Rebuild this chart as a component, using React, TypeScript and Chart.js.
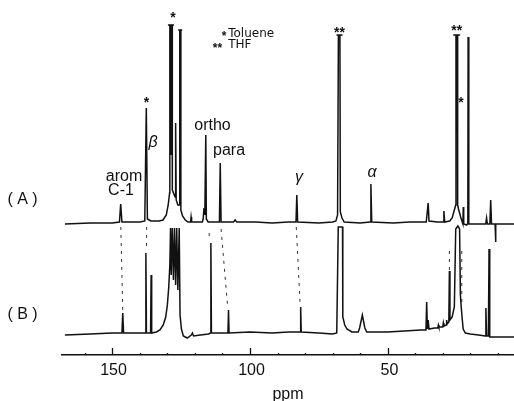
import React, { useEffect, useRef } from 'react';
import { Chart, registerables } from 'chart.js';
Chart.register(...registerables);

// ---- Spectrum (A): vertices (ppm, intensity above axis) ----
const specAPpm = [167.2, 158, 150, 147.4, 146.95, 146.5, 140, 138.2, 137.65, 137.45, 137.25, 136.0, 133.0, 131.6, 130.4, 129.7, 129.2, 129.1, 129.8, 127.6, 128.7, 128.75, 128.5, 128.3, 128.2, 127.2, 127.0, 126.8, 126.2, 125.6, 125.5, 126.1, 124.6, 125.2, 125.1, 124.5, 123.5, 122.5, 121.6, 121.4, 121.2, 117.3, 117.0, 116.7, 116.4, 116.05, 115.85, 115.2, 111.1, 110.8, 110.5, 106.0, 105.4, 104.8, 98, 92, 86, 83.3, 83.0, 82.7, 75, 70, 68.8, 68.2, 67.9, 68.6, 66.4, 67.35, 67.2, 66.6, 65.8, 60, 56.4, 56.1, 55.8, 48, 42, 36.0, 35.3, 35.0, 32, 29.9, 29.6, 29.3, 27.5, 26.6, 26.0, 25.3, 25.2, 26.2, 23.7, 24.7, 24.6, 24.3, 23.5, 22.7, 22.55, 22.4, 21.3, 20.9, 20.8, 20.6, 20.5, 18, 14.4, 14.1, 13.8, 12.9, 12.6, 12.3, 11.0, 10.85, 10.7, 8, 4.14];
const specAVal = [131, 132, 132, 133, 151, 133, 133, 134, 247, 247, 136, 134, 134, 135, 140, 150, 162, 330, 330, 330, 330, 200, 330, 330, 165, 158, 232, 155, 150, 150, 325, 325, 325, 325, 145, 139, 135, 133, 133, 138, 133, 133, 136, 147, 140, 220, 136, 133, 133, 192, 133, 133, 135, 133, 133, 132, 133, 133, 160, 133, 132, 133, 134, 140, 320, 320, 320, 320, 143, 137, 133, 132, 133, 171, 133, 132, 133, 133, 152, 134, 133, 133, 144, 133, 134, 137, 143, 150, 320, 320, 320, 320, 150, 146, 138, 131, 148, 131, 130, 132, 318, 318, 131, 131, 131, 137, 131, 131, 155, 131, 131, 113, 131, 131, 131];

// ---- Spectrum (B) ----
const specBPpm = [167.2, 158, 150, 146.5, 146.2, 145.9, 140, 138.0, 137.8, 137.6, 136.1, 135.9, 135.7, 134, 132.7, 131.5, 130.6, 130.0, 129.5, 129.1, 128.85, 128.6, 128.2, 127.8, 127.4, 127.0, 126.6, 126.2, 125.7, 125.4, 124.9, 124.2, 122.8, 121.3, 120.9, 120.5, 118, 115, 114.4, 114.2, 114.0, 110, 108.0, 107.8, 107.6, 100, 92, 86, 81.8, 81.6, 81.4, 75, 70, 68.5, 67.95, 66.4, 66.3, 65.6, 64.8, 63, 60.7, 60.2, 59.2, 58.3, 57.6, 50, 44, 38, 36.1, 35.85, 35.6, 35.3, 35.0, 33, 31.8, 31.6, 31.4, 30.0, 29.8, 29.6, 28.8, 28.6, 28.4, 27.8, 27.6, 27.4, 26.6, 25.8, 25.3, 24.5, 23.9, 23.6, 23.3, 23.0, 22.6, 21.8, 20, 17, 14.6, 14.35, 14.1, 13.45, 13.2, 12.95, 10, 7, 4.14];
const specBVal = [20, 21, 22, 22, 42, 22, 22, 22, 102, 22, 22, 80, 22, 23, 25, 30, 38, 50, 68, 90, 127, 80, 127, 75, 127, 70, 127, 65, 127, 40, 26, 19, 17, 20, 22, 19, 20, 21, 22, 112, 22, 22, 22, 45, 22, 23, 22, 23, 23, 48, 23, 22, 21, 22, 128, 128, 38, 30, 26, 23, 23, 27, 40, 27, 23, 23, 24, 25, 25, 53, 26, 35, 26, 27, 27, 30, 28, 28, 32, 29, 30, 35, 31, 33, 84, 35, 38, 48, 126, 129, 126, 60, 48, 38, 26, 22, 21, 20, 19, 47, 19, 19, 106, 18, 18, 18, 18];

// ---- Dotted correlation lines between (A) and (B) ----
const linkTopPpm = [146.9, 137.5, 114.8, 110.5, 83.2, 27.6, 23.1];
const linkTopVal = [128, 128, 122, 126, 128, 104, 104];
const linkBotPpm = [146.2, 137.6, 114.8, 108.1, 81.8, 27.6, 23.1];
const linkBotVal = [44, 105, 115, 48, 51, 85, 50];

// ---- Axis ----
const axisTicks = [160, 150, 140, 130, 120, 110, 100, 90, 80, 70, 60, 50, 40, 30, 20, 10];
const majorTicks = [150, 100, 50];
const axisTitle = 'ppm';

// ---- Text annotations ----
const labelTexts = ['( A )', '( B )', 'arom', 'C-1', 'β', 'ortho', 'para', 'γ', 'α'];
const labelPpm = [182.6, 182.6, 145.75, 146.84, 135.2, 113.6, 107.6, 82.2, 55.7];
const labelVal = [151.5, 36.5, 174, 160, 208, 225, 200, 173, 178];

const markTexts = ['*', '*', '**', '**', '*'];
const markPpm = [127.96, 137.58, 67.5, 24.95, 23.38];
const markVal = [341, 256, 326, 328, 256];

const legendMarks = ['*', '**'];
const legendTexts = ['Toluene', 'THF'];
const legendMarkPpm = [109.44, 111.8];
const legendMarkVal = [321.7, 310];
const legendTextPpm = [107.9, 107.9];
const legendTextVal = [317.7, 306.7];

const INK = '#111';

const annotPlugin = {
  id: 'annot',
  afterDatasetsDraw(chart: any) {
    const { ctx, scales } = chart;
    const x = scales.x, y = scales.y;
    ctx.save();
    ctx.fillStyle = INK;
    ctx.textAlign = 'center';
    ctx.textBaseline = 'alphabetic';
    labelTexts.forEach((t, i) => {
      const greek = /[αβγ]/.test(t);
      ctx.font = greek ? 'italic 16px "Liberation Sans"' : '16px "Liberation Sans"';
      ctx.fillText(t, x.getPixelForValue(labelPpm[i]), y.getPixelForValue(labelVal[i]));
    });
    ctx.font = 'bold 14px "Liberation Sans"';
    markTexts.forEach((t, i) => {
      ctx.fillText(t, x.getPixelForValue(markPpm[i]), y.getPixelForValue(markVal[i]) + 0.57 * 14);
    });
    ctx.font = 'bold 12px "Liberation Sans"';
    legendMarks.forEach((t, i) => {
      ctx.fillText(t, x.getPixelForValue(legendMarkPpm[i]), y.getPixelForValue(legendMarkVal[i]) + 0.57 * 12);
    });
    ctx.textAlign = 'left';
    ctx.font = '12px "DejaVu Sans"';
    legendTexts.forEach((t, i) => {
      ctx.fillText(t, x.getPixelForValue(legendTextPpm[i]), y.getPixelForValue(legendTextVal[i]));
    });
    ctx.restore();
  },
  afterDraw(chart: any) {
    const { ctx, scales, chartArea } = chart;
    const x = scales.x;
    const base = chartArea.bottom;
    ctx.save();
    ctx.strokeStyle = INK;
    ctx.fillStyle = INK;
    ctx.lineWidth = 1.3;
    ctx.textAlign = 'center';
    ctx.textBaseline = 'alphabetic';
    ctx.font = '16px "Liberation Sans"';
    axisTicks.forEach((v) => {
      const px = Math.round(x.getPixelForValue(v)) + 0.5;
      const major = majorTicks.includes(v);
      ctx.beginPath();
      ctx.moveTo(px, base);
      ctx.lineTo(px, base - (major ? 7 : 2));
      ctx.stroke();
      if (major) ctx.fillText(String(v), px + 1, base + 20);
    });
    ctx.fillText(axisTitle, (chartArea.left + chartArea.right) / 2, base + 44);
    ctx.restore();
  },
};

export default function App() {
  const ref = useRef<HTMLCanvasElement | null>(null);
  useEffect(() => {
    if (!ref.current) return;
    const toPts = (p: number[], v: number[]) => p.map((px, i) => ({ x: px, y: v[i] }));
    const links: { x: number; y: number | null }[] = [];
    linkTopPpm.forEach((p, i) => {
      links.push({ x: p, y: linkTopVal[i] }, { x: linkBotPpm[i], y: linkBotVal[i] }, { x: linkBotPpm[i], y: null });
    });
    const chart = new Chart(ref.current, {
      type: 'scatter',
      data: {
        datasets: [
          { data: toPts(specAPpm, specAVal), showLine: true, borderColor: INK, borderWidth: 1.5, pointRadius: 0, tension: 0 },
          { data: toPts(specBPpm, specBVal), showLine: true, borderColor: INK, borderWidth: 1.5, pointRadius: 0, tension: 0 },
          { data: links as any, showLine: true, spanGaps: false, borderColor: '#333', borderWidth: 1, borderDash: [3, 5], pointRadius: 0, tension: 0 },
        ],
      },
      options: {
        animation: false,
        responsive: true,
        maintainAspectRatio: false,
        events: [],
        layout: { padding: { left: 62, right: 0, top: 0, bottom: 46 } },
        plugins: { legend: { display: false }, tooltip: { enabled: false } },
        scales: {
          x: {
            type: 'linear',
            reverse: true,
            min: 4.14,
            max: 168.26,
            afterBuildTicks: (s: any) => { s.ticks = axisTicks.map((v) => ({ value: v })); },
            ticks: { display: false },
            grid: { display: false, drawTicks: false, tickLength: 0 },
            border: { display: true, color: INK, width: 1.5 },
            title: { display: false },
          },
          y: { display: false, min: 0, max: 355 },
        },
      },
      plugins: [annotPlugin],
    });
    return () => chart.destroy();
  }, []);
  return (
    <div style={{ position: 'fixed', left: 0, top: 0, width: 514, height: 401, background: '#fff' }}>
      <canvas ref={ref} />
    </div>
  );
}
